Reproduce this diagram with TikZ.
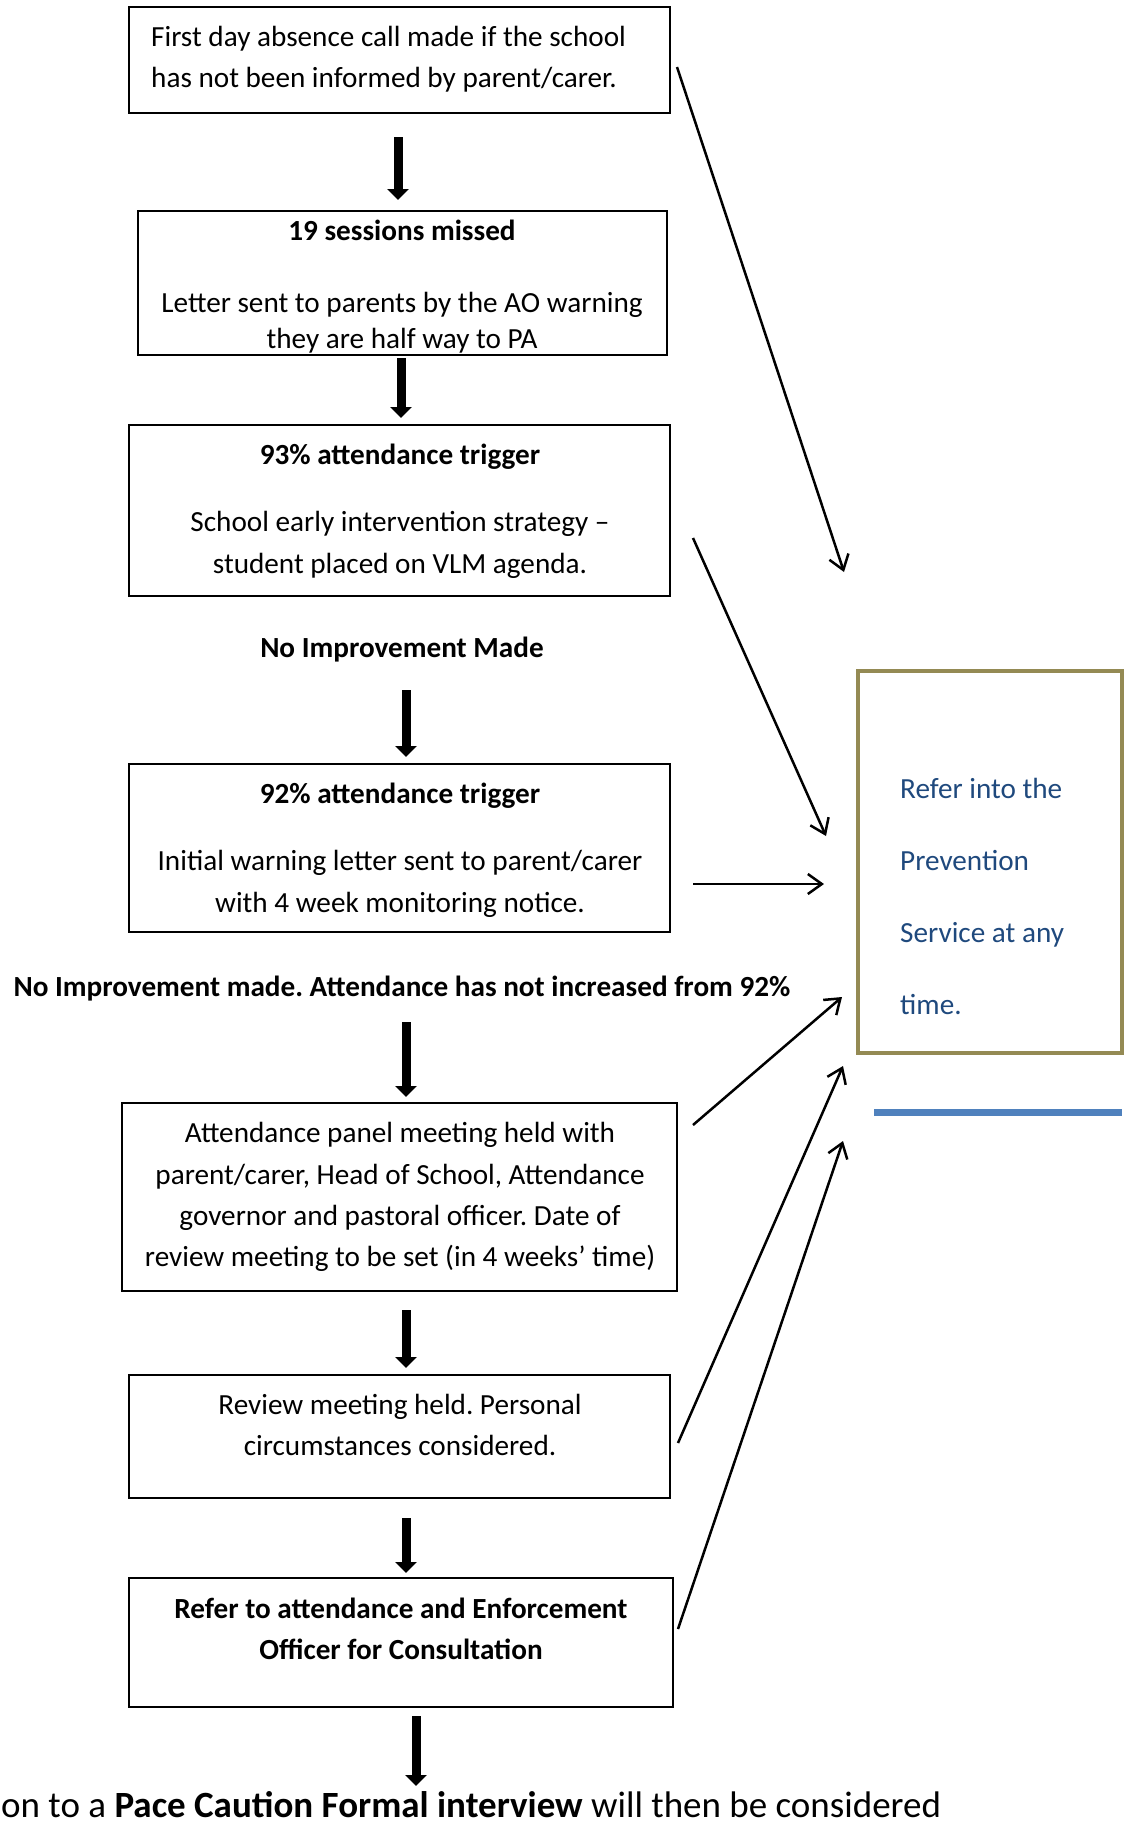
\documentclass[tikz,border=0pt]{standalone}
\usepackage{fontspec}
\setmainfont{Carlito}
\usetikzlibrary{arrows.meta}
\definecolor{olivebox}{HTML}{948A54}
\definecolor{bluetext}{HTML}{1F497D}
\definecolor{bluebar}{HTML}{4F81BD}
\frenchspacing
\begin{document}
\begin{tikzpicture}[x=1pt,y=-1pt,
  box/.style={draw=black, line width=2pt, inner sep=0pt, rectangle},
  txt/.style={inner sep=0pt, text height=0.64em, text depth=0pt, font=\fontsize{29.2}{35}\selectfont},
  btxt/.style={txt, font=\fontsize{29.2}{35}\selectfont\bfseries},
  bigarrow/.style={line width=9pt, -{Triangle[width=21pt,length=11pt]}},
  thinarrow/.style={line width=2.5pt, -{Straight Barb[length=14pt,width=20pt,line width=2.5pt]}}]
\useasboundingbox (0,0) rectangle (1131,1821);
\clip (0,0) rectangle (1131,1821);

% main boxes
\node[box, minimum width=541pt, minimum height=106pt] (b1) at (399.5,60) {};
\node[box, minimum width=529pt, minimum height=144pt] (b2) at (402.5,283) {};
\node[box, minimum width=541pt, minimum height=171pt] (b3) at (399.5,510.5) {};
\node[box, minimum width=541pt, minimum height=168pt] (b4) at (399.5,848) {};
\node[box, minimum width=555pt, minimum height=188pt] (b5) at (399.5,1197) {};
\node[box, minimum width=541pt, minimum height=123pt] (b6) at (399.5,1436.5) {};
\node[box, minimum width=544pt, minimum height=129pt] (b7) at (401,1642.5) {};

% side box
\node[draw=olivebox, line width=4pt, inner sep=0pt, minimum width=264pt, minimum height=382pt] (ps) at (990,862) {};
\fill[bluebar] (874,1109) rectangle (1122,1116);

% texts
\node[txt, anchor=west] (t1a) at (151,43) {First day absence call made if the school};
\node[txt, anchor=west] (t1b) at (151,84) {has not been informed by parent/carer.};

\node[btxt] (t2a) at (402,237) {19 sessions missed};
\node[txt] (t2b) at (402,309) {Letter sent to parents by the AO warning};
\node[txt] (t2c) at (402,345) {they are half way to PA};

\node[btxt] (t3a) at (400,461) {93\% attendance trigger};
\node[txt] (t3b) at (400,528) {School early intervention strategy –};
\node[txt] (t3c) at (400,570) {student placed on VLM agenda.};

\node[btxt] (nim1) at (402,654) {No Improvement Made};

\node[btxt] (t4a) at (400,800) {92\% attendance trigger};
\node[txt] (t4b) at (400,867) {Initial warning letter sent to parent/carer};
\node[txt] (t4c) at (400,909) {with 4 week monitoring notice.};

\node[btxt] (nim2) at (402,993) {No Improvement made. Attendance has not increased from 92\%};

\node[txt] (t5a) at (400,1139) {Attendance panel meeting held with};
\node[txt] (t5b) at (400,1181) {parent/carer, Head of School, Attendance};
\node[txt] (t5c) at (400,1222) {governor and pastoral officer. Date of};
\node[txt] (t5d) at (400,1263) {review meeting to be set (in 4 weeks’ time)};

\node[txt] (t6a) at (400,1411) {Review meeting held. Personal};
\node[txt] (t6b) at (400,1452) {circumstances considered.};

\node[btxt] (t7a) at (401,1615) {Refer to attendance and Enforcement};
\node[btxt] (t7b) at (401,1656) {Officer for Consultation};

\node[inner sep=0pt, anchor=base west, font=\fontsize{37}{44}\selectfont] (fin) at (1,1817) {on to a \textbf{Pace Caution Formal interview} will then be considered};

\begin{scope}[every node/.style={txt, anchor=west, text=bluetext}]
\node (p1) at (900,795) {Refer into the};
\node (p2) at (900,867) {Prevention};
\node (p3) at (900,939) {Service at any};
\node (p4) at (900,1011) {time.};
\end{scope}

% coordinates for big arrows
\coordinate (a1s) at (398,137); \coordinate (a1e) at (398,200);
\coordinate (a2s) at (401,358); \coordinate (a2e) at (401,418);
\coordinate (a3s) at (406,690); \coordinate (a3e) at (406,757);
\coordinate (a4s) at (406,1022); \coordinate (a4e) at (406,1097);
\coordinate (a5s) at (406,1310); \coordinate (a5e) at (406,1368);
\coordinate (a6s) at (406,1518); \coordinate (a6e) at (406,1573);
\coordinate (a7s) at (416,1716); \coordinate (a7e) at (416,1786);
\foreach \i in {1,...,7} \draw[bigarrow] (a\i s) -- (a\i e);

% thin arrows to prevention box
\coordinate (c1s) at (677,67);   \coordinate (c1e) at (844,572);
\coordinate (c2s) at (693,538);  \coordinate (c2e) at (826,836);
\coordinate (c3s) at (693,884);  \coordinate (c3e) at (824,884);
\coordinate (c4s) at (693,1125); \coordinate (c4e) at (842,997);
\coordinate (c5s) at (678,1443); \coordinate (c5e) at (843,1066);
\coordinate (c6s) at (678,1629); \coordinate (c6e) at (843,1141);
\foreach \i in {1,...,6} \draw[thinarrow] (c\i s) -- (c\i e);
\end{tikzpicture}
\end{document}
